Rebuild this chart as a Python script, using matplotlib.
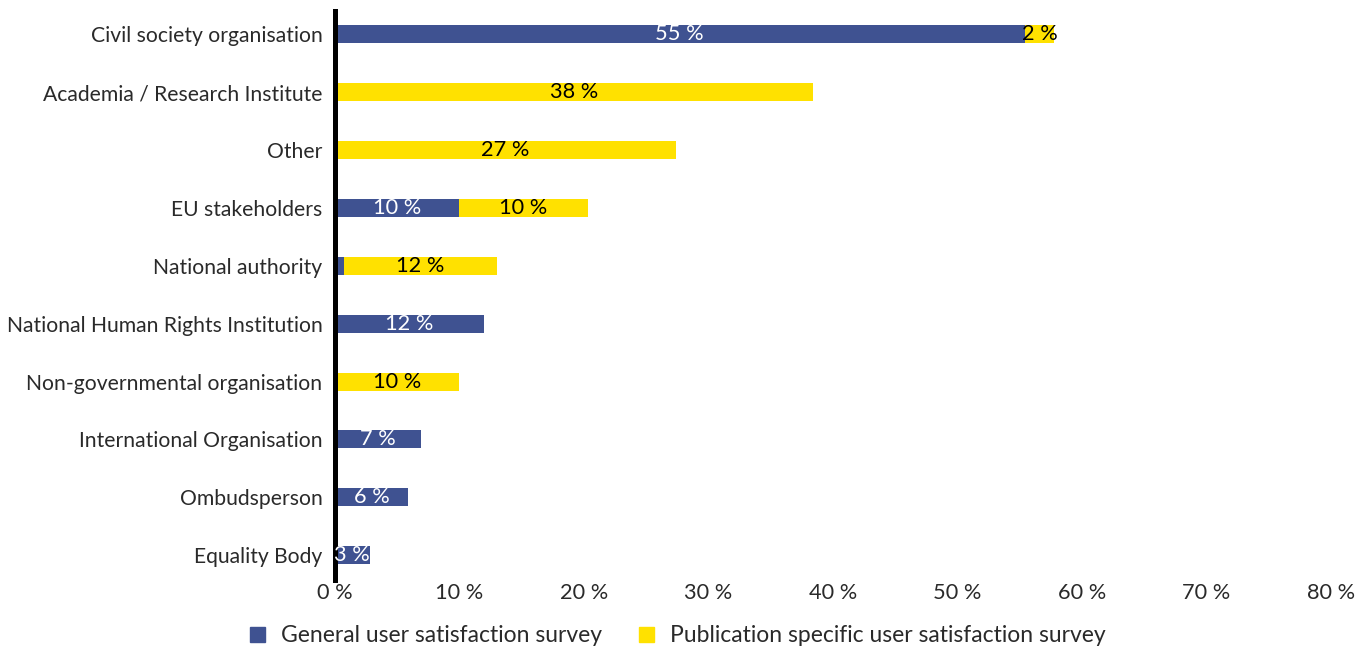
import matplotlib
matplotlib.use('Agg')
import matplotlib.pyplot as plt
import numpy as np

# 数据
categories = ['Civil society organisation', 'Academia / Research Institute', 'Other',
              'EU stakeholders', 'National authority', 'National Human Rights Institution',
              'Non-governmental organisation', 'International Organisation',
              'Ombudsperson', 'Equality Body']
general = [55.4, 0, 0, 10.0, 0.7, 12.0, 0, 6.9, 5.9, 2.8]
publication = [2.4, 38.4, 27.4, 10.3, 12.3, 0, 10.0, 0, 0, 0]
series_names = ['General user satisfaction survey',
                'Publication specific user satisfaction survey']
xticks = [0, 10, 20, 30, 40, 50, 60, 70, 80]

BLUE = '#3F5291'
YELLOW = '#FFE100'
TXT = '#2a2a2a'
FS = 15.2

plt.rcParams['font.family'] = ['Lato', 'DejaVu Sans']

fig = plt.figure(figsize=(13.66, 6.5), dpi=100)
ax = fig.add_axes([0.2452, 0.1077, 0.729, 0.875])

y = np.arange(len(categories))[::-1]
h = 0.31
b1 = ax.barh(y, general, height=h, color=BLUE)
b2 = ax.barh(y, publication, left=general, height=h, color=YELLOW)

# 数据标签，太小的段不标
lab1 = ['%d %%' % round(v) if v >= 1 else '' for v in general]
lab2 = ['%d %%' % round(v) if v >= 1 else '' for v in publication]
ax.bar_label(b1, labels=lab1, label_type='center', color='white', fontsize=FS + 0.5)
ax.bar_label(b2, labels=lab2, label_type='center', color='black', fontsize=FS + 0.5)

ax.set_xlim(0, 80)
ax.set_ylim(-0.43, 9.4)
ax.set_xticks(xticks)
ax.set_xticklabels(['%d %%' % t for t in xticks], fontsize=FS + 0.5, color=TXT)
ax.set_yticks(y)
ax.set_yticklabels(categories, fontsize=FS, color=TXT)
ax.tick_params(length=0, pad=9)
ax.tick_params(axis='x', pad=2)

for s in ['top', 'right', 'bottom']:
    ax.spines[s].set_visible(False)
ax.spines['left'].set_linewidth(3.6)
ax.spines['left'].set_color('black')

handles = [plt.Rectangle((0, 0), 1, 1, color=BLUE), plt.Rectangle((0, 0), 1, 1, color=YELLOW)]
leg = fig.legend(handles, series_names, loc='center', bbox_to_anchor=(0.4963, 0.022),
                 ncol=2, frameon=False, handlelength=0.65, handleheight=0.65,
                 columnspacing=1.6, handletextpad=0.7,
                 prop={'size': 16.5})
for t in leg.get_texts():
    t.set_color(TXT)

plt.savefig('out.png', dpi=100)
